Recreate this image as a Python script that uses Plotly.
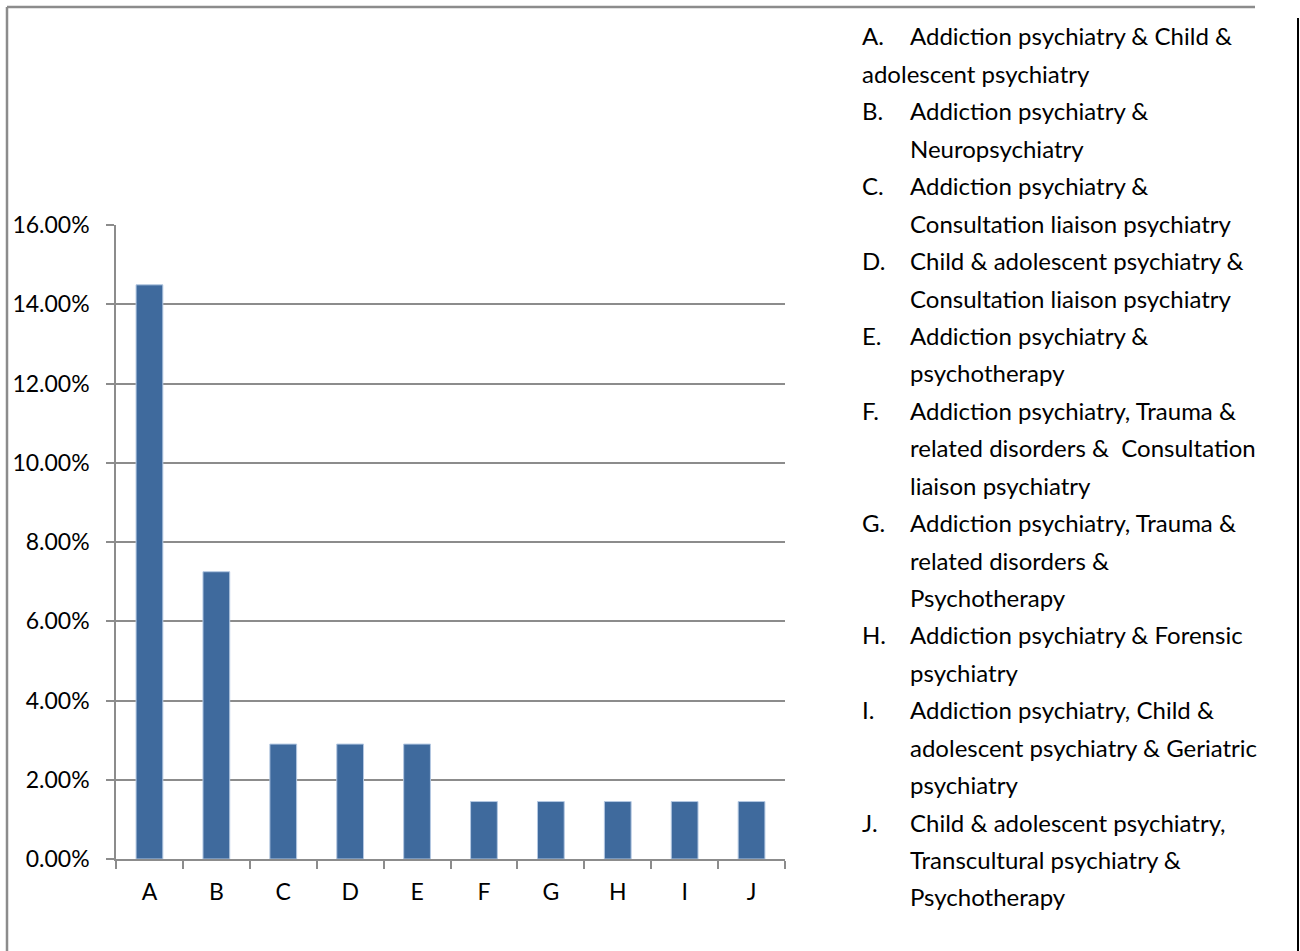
import plotly.graph_objects as go

categories = ["A", "B", "C", "D", "E", "F", "G", "H", "I", "J"]
values = [0.1449, 0.0725, 0.0290, 0.0290, 0.0290, 0.0145, 0.0145, 0.0145, 0.0145, 0.0145]
ytick_vals = [0.00, 0.02, 0.04, 0.06, 0.08, 0.10, 0.12, 0.14, 0.16]
ytick_text = ["0.00%", "2.00%", "4.00%", "6.00%", "8.00%", "10.00%", "12.00%", "14.00%", "16.00%"]

legend_letters = ["A.", "B.", "C.", "D.", "E.", "F.", "G.", "H.", "I.", "J."]
legend_lines = [
    ["Addiction psychiatry & Child &", "adolescent psychiatry"],
    ["Addiction psychiatry &", "Neuropsychiatry"],
    ["Addiction psychiatry &", "Consultation liaison psychiatry"],
    ["Child & adolescent psychiatry &", "Consultation liaison psychiatry"],
    ["Addiction psychiatry &", "psychotherapy"],
    ["Addiction psychiatry, Trauma &", "related disorders &  Consultation", "liaison psychiatry"],
    ["Addiction psychiatry, Trauma &", "related disorders &", "Psychotherapy"],
    ["Addiction psychiatry & Forensic", "psychiatry"],
    ["Addiction psychiatry, Child &", "adolescent psychiatry & Geriatric", "psychiatry"],
    ["Child & adolescent psychiatry,", "Transcultural psychiatry &", "Psychotherapy"],
]

W, H = 1300, 951
FONT = "Lato"
GRID = "#8c8c8c"

fig = go.Figure()
fig.add_trace(go.Bar(
    x=categories, y=values,
    marker=dict(color="#3f6a9d", line=dict(color="#b4c8e2", width=1)),
    showlegend=False, hoverinfo="skip",
))

def px_x(p):
    return p / W

def px_y(p):
    return 1 - p / H

fig.update_layout(
    width=W, height=H,
    margin=dict(l=0, r=0, t=0, b=0, pad=0, autoexpand=False),
    paper_bgcolor="white", plot_bgcolor="white",
    bargap=0.6,
    font=dict(family=FONT, color="black"),
    xaxis=dict(
        domain=[px_x(116), px_x(785)],
        type="category",
        tickson="boundaries",
        ticks="outside", ticklen=8, tickcolor=GRID, tickwidth=1.5,
        showline=True, linecolor=GRID, linewidth=1.5,
        showgrid=False,
        tickfont=dict(family=FONT, size=23, color="black"),
        ticklabelstandoff=12,
        range=[-0.5, 9.5],
        automargin=False,
        fixedrange=True,
    ),
    yaxis=dict(
        domain=[px_y(859), px_y(225)],
        range=[0, 0.16],
        tickvals=ytick_vals, ticktext=ytick_text,
        ticks="outside", ticklen=8, tickcolor=GRID, tickwidth=1.5,
        showline=True, linecolor=GRID, linewidth=1.5,
        showgrid=True, gridcolor=GRID, gridwidth=1.5,
        zeroline=False,
        tickfont=dict(family=FONT, size=23, color="black"),
        ticklabelstandoff=12,
        automargin=False,
        fixedrange=True,
    ),
)

# frame lines
fig.add_shape(type="line", xref="paper", yref="paper",
              x0=px_x(7), x1=px_x(1255), y0=px_y(7), y1=px_y(7),
              line=dict(color="#8c8c8c", width=2.5))
fig.add_shape(type="line", xref="paper", yref="paper",
              x0=px_x(7), x1=px_x(7), y0=px_y(7), y1=px_y(951),
              line=dict(color="#8c8c8c", width=2.5))
fig.add_shape(type="line", xref="paper", yref="paper",
              x0=px_x(1298), x1=px_x(1298), y0=px_y(18), y1=px_y(951),
              line=dict(color="black", width=2))

# legend text block
line_y0 = 36
line_step = 37.43
idx = 0
for letter, lines in zip(legend_letters, legend_lines):
    fig.add_annotation(x=px_x(860), y=px_y(line_y0 + idx * line_step),
                       xref="paper", yref="paper", xanchor="left", yanchor="middle",
                       text=letter, showarrow=False,
                       font=dict(family=FONT, size=24, color="black"))
    for j, ln in enumerate(lines):
        xpos = 908
        if letter == "A." and j == 1:
            xpos = 860
        fig.add_annotation(x=px_x(xpos), y=px_y(line_y0 + idx * line_step),
                           xref="paper", yref="paper", xanchor="left", yanchor="middle",
                           text=ln.replace("  ", "&nbsp; "), showarrow=False,
                           font=dict(family=FONT, size=24, color="black"))
        idx += 1

fig.write_html("out.html", config={"displayModeBar": False},
               post_script="document.body.style.margin='0';")
